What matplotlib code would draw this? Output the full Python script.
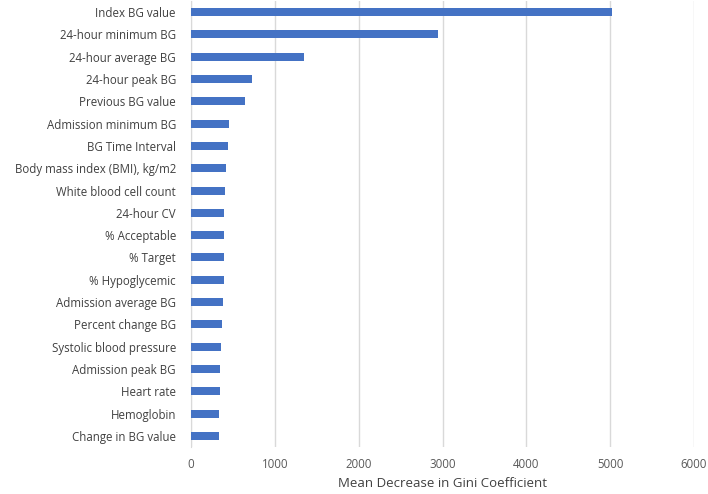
import matplotlib
matplotlib.use("Agg")
import matplotlib.pyplot as plt

features = ["Index BG value", "24-hour minimum BG", "24-hour average BG", "24-hour peak BG",
            "Previous BG value", "Admission minimum BG", "BG Time Interval",
            "Body mass index (BMI), kg/m2", "White blood cell count", "24-hour CV",
            "% Acceptable", "% Target", "% Hypoglycemic", "Admission average BG",
            "Percent change BG", "Systolic blood pressure", "Admission peak BG",
            "Heart rate", "Hemoglobin", "Change in BG value"]
values = [5025, 2947, 1345, 732, 648, 457, 434, 414, 406, 394, 390, 390, 390, 386,
          374, 362, 346, 342, 334, 334]
xticks = [0, 1000, 2000, 3000, 4000, 5000, 6000]

plt.rcParams['font.family'] = ['Open Sans', 'DejaVu Sans']

fig = plt.figure(figsize=(7.08, 4.94), dpi=100)
ax = fig.add_axes([0.270, 0.095, 0.710, 0.903])
y = list(range(len(features)))
ax.barh(y, values, height=0.36, color="#4472C4", zorder=3)
ax.set_ylim(len(features) - 0.5, -0.5)
ax.set_yticks(y)
ax.set_yticklabels(features, fontsize=8.3, color="#404040")
ax.set_xlim(0, 6000)
ax.set_xticks(xticks)
ax.set_xticklabels([str(t) for t in xticks], fontsize=8.3, color="#595959")
ax.tick_params(axis='y', length=0, pad=11)
ax.tick_params(axis='x', length=0, pad=8)
ax.grid(axis='x', color="#D9D9D9", linewidth=1, zorder=0)
for s in ["top", "right", "bottom"]:
    ax.spines[s].set_visible(False)
ax.spines["left"].set_color("#D9D9D9")
ax.set_xlabel("Mean Decrease in Gini Coefficient", fontsize=9.5, color="#404040", labelpad=4)
fig.savefig("out.png", dpi=100)
